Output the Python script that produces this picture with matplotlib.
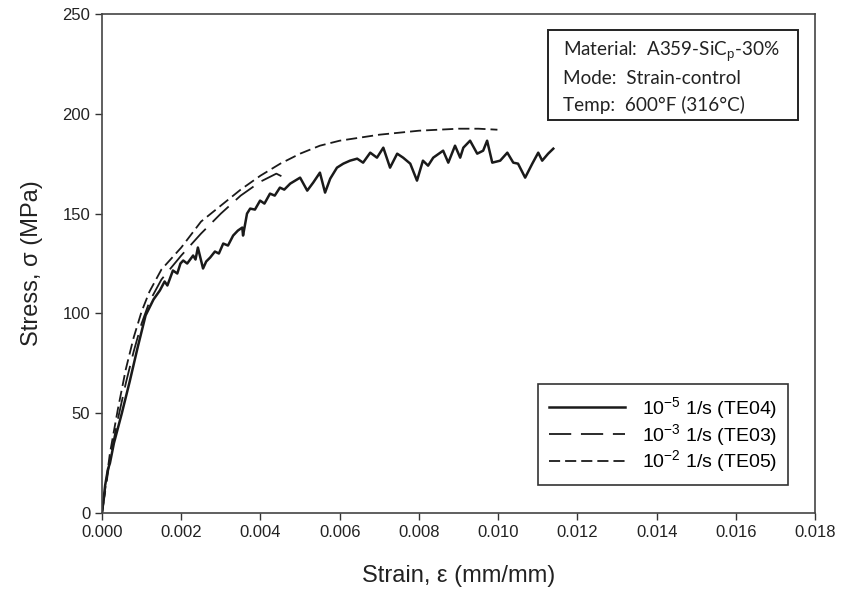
import matplotlib
matplotlib.use("Agg")
import matplotlib.pyplot as plt
from matplotlib.patches import Rectangle

plt.rcParams["font.family"] = ["Liberation Sans", "DejaVu Sans"]
plt.rcParams["mathtext.fontset"] = "custom"
plt.rcParams["mathtext.rm"] = "Liberation Sans"
plt.rcParams["mathtext.it"] = "Liberation Sans:italic"
plt.rcParams["lines.scale_dashes"] = False

# strain (mm/mm) / stress (MPa)
te04_strain = [0.0, 0.00008, 0.00015, 0.0002, 0.0003, 0.0005, 0.0007, 0.0009, 0.0011,
               0.0013, 0.00146, 0.00158, 0.00165, 0.00179, 0.0019, 0.00198, 0.00205,
               0.00215, 0.0023, 0.00236, 0.00242, 0.00255, 0.00263, 0.00273, 0.00285,
               0.00295, 0.00306, 0.00318, 0.00331, 0.00343, 0.00354, 0.00356, 0.00366,
               0.00374, 0.00386, 0.00399, 0.0041, 0.00424, 0.00436, 0.00449, 0.0046,
               0.00475, 0.005, 0.00518, 0.00533, 0.0055, 0.00563, 0.00576, 0.00593,
               0.00609, 0.00626, 0.00644, 0.00659, 0.00677, 0.00694, 0.0071, 0.00727,
               0.00745, 0.0076, 0.00778, 0.00795, 0.0081, 0.00823, 0.00836, 0.00861,
               0.00874, 0.00891, 0.00904, 0.00912, 0.00929, 0.00947, 0.00962, 0.00972,
               0.00985, 0.01005, 0.01023, 0.01038, 0.0105, 0.01068, 0.01086, 0.01101,
               0.01111, 0.01126, 0.01139]
te04_stress = [0.0, 14, 22, 25, 35, 50, 66, 83, 99,
               107, 111.5, 116, 114, 121.5, 120, 125, 126.5,
               125, 129, 127, 133, 122.5, 126, 128, 131,
               130, 135, 134, 139, 141.5, 143, 139, 150,
               152.5, 152, 156.5, 155, 160, 159, 163, 162,
               165, 168, 161.5, 165.5, 170.5, 160.5, 167.5, 173,
               175, 176.5, 177.5, 175.5, 180.5, 178, 183, 173,
               180, 178, 175, 166.5, 176.5, 174, 178, 181.5,
               175.5, 184, 178, 183, 186.5, 180, 181.5, 186.5,
               175.5, 176.5, 180.5, 175.5, 175, 168, 175, 180.5,
               176.5, 180, 182.5]

te03_strain = [0.0, 0.0002, 0.0004, 0.0006, 0.0008, 0.001, 0.0012, 0.0015, 0.002,
               0.0025, 0.003, 0.0035, 0.004, 0.0044, 0.0046]
te03_stress = [0.0, 27, 47, 65, 81, 95, 106, 117, 129,
               140, 150, 159, 166, 170, 168]

te05_strain = [0.0, 0.0002, 0.0004, 0.0006, 0.0008, 0.001, 0.0012, 0.0015, 0.002,
               0.0025, 0.003, 0.0035, 0.004, 0.0045, 0.005, 0.0055, 0.006, 0.0065,
               0.007, 0.0075, 0.008, 0.0085, 0.009, 0.0095, 0.00998]
te05_stress = [0.0, 30, 52, 72, 88, 101, 111, 122, 133,
               146, 154, 162, 169, 175, 180, 184, 186.5, 188,
               189.5, 190.5, 191.5, 192, 192.5, 192.5, 192]

labels = [r"10$^{-5}$ 1/s (TE04)", r"10$^{-3}$ 1/s (TE03)", r"10$^{-2}$ 1/s (TE05)"]
info = ["Material:  A359-SiC$_\\mathrm{p}$-30%", "Mode:  Strain-control",
        "Temp:  600\u00b0F (316\u00b0C)"]

fig = plt.figure(figsize=(8.43, 6.03), dpi=100)
ax = fig.add_axes([0.121, 0.149, 0.846, 0.828])

ink = "#1a1a1a"
ax.plot(te04_strain, te04_stress, color=ink, lw=1.8, label=labels[0])
ax.plot(te03_strain, te03_stress, color=ink, lw=1.3, dashes=(16, 7), label=labels[1])
ax.plot(te05_strain, te05_stress, color=ink, lw=1.3, dashes=(8, 3.6), label=labels[2])

ax.set_xlim(0, 0.018)
ax.set_ylim(0, 250)
ax.set_xticks([i * 0.002 for i in range(10)])
ax.set_xticklabels([f"{i * 0.002:.3f}" for i in range(10)])
ax.set_yticks(range(0, 251, 50))
ax.tick_params(labelsize=12, direction="out", length=5, width=1, colors="#333333",
               labelcolor="#222222")
for s in ax.spines.values():
    s.set_color("#444444")
    s.set_linewidth(1.2)

ax.set_xlabel("Strain, \u03b5 (mm/mm)", fontsize=17, labelpad=18, color="#222222")
ax.set_ylabel("Stress, \u03c3 (MPa)", fontsize=17, labelpad=14, color="#222222")

leg = ax.legend(loc="lower right", bbox_to_anchor=(0.962, 0.056), fontsize=14,
                handlelength=3.9, handletextpad=0.9, labelspacing=0.05,
                borderpad=0.55, fancybox=False, framealpha=1, borderaxespad=0)
leg.get_frame().set_edgecolor("#333333")
leg.get_frame().set_linewidth(1.2)

ax.add_patch(Rectangle((0.6255, 0.7876), 0.3506, 0.1804, transform=ax.transAxes,
                       fill=False, edgecolor="#222222", lw=1.4, zorder=5))
for y, t in zip([0.924, 0.871, 0.818], info):
    ax.text(0.646, y, t, transform=ax.transAxes, fontsize=13.6, va="center",
            family=["Lato", "DejaVu Sans"], color="#222222")

fig.savefig("out.png", dpi=100)
